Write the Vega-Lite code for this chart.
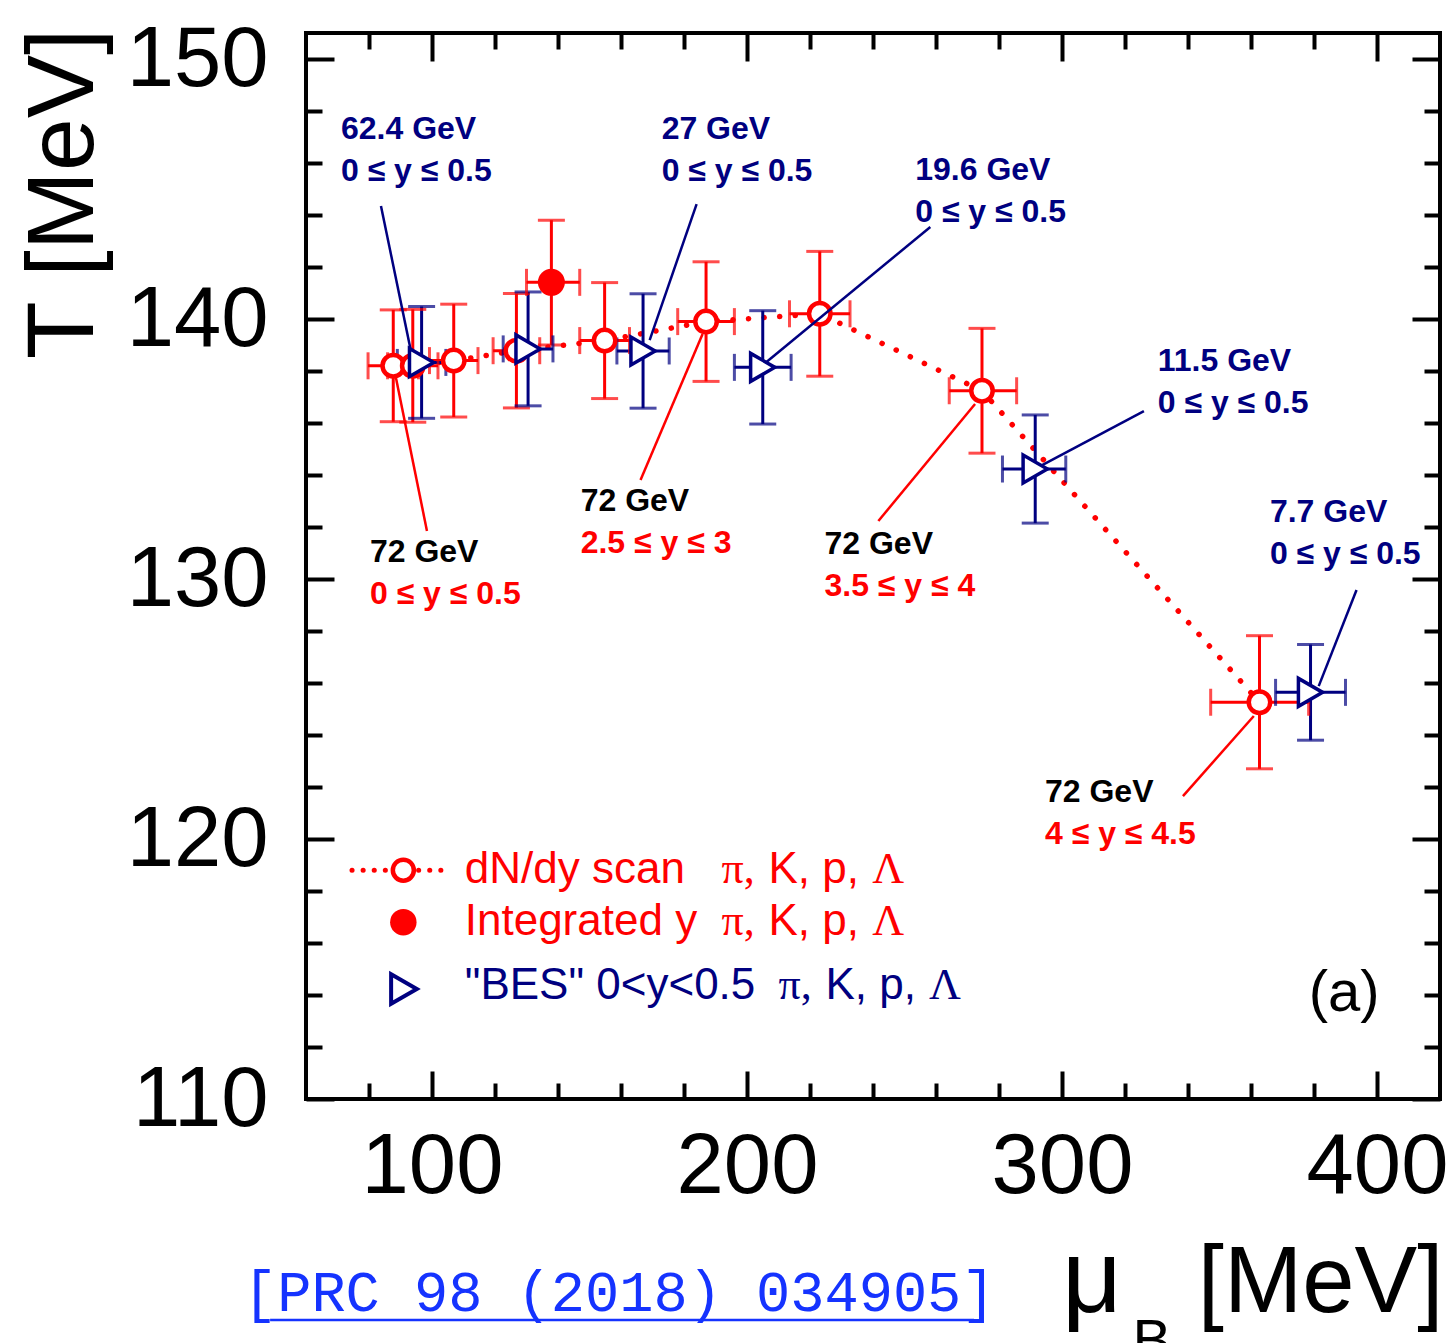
{
  "$schema": "https://vega.github.io/schema/vega-lite/v6.json",
  "width": 1134,
  "height": 1066,
  "autosize": {"type": "none"},
  "padding": {"left": 306, "top": 33, "right": 14, "bottom": 244},
  "background": "white",
  "config": {"view": {"stroke": "black", "strokeWidth": 4}, "font": "Liberation Sans"},
  "resolve": {"axis": {"x": "independent", "y": "independent"}},
  "datasets": {
    "pts": [
      {"s": "dNdy", "x": 87.7, "y": 138.2, "xlo": 79.7, "xhi": 95.7, "ylo": 136.05, "yhi": 140.35},
      {"s": "dNdy", "x": 93.9, "y": 138.2, "xlo": 85.9, "xhi": 101.9, "ylo": 136.03, "yhi": 140.37},
      {"s": "dNdy", "x": 106.9, "y": 138.4, "xlo": 99.2, "xhi": 114.6, "ylo": 136.23, "yhi": 140.57},
      {"s": "dNdy", "x": 126.8, "y": 138.78, "xlo": 119.4, "xhi": 134.2, "ylo": 136.58, "yhi": 140.98},
      {"s": "dNdy", "x": 154.8, "y": 139.17, "xlo": 146.9, "xhi": 162.7, "ylo": 136.94, "yhi": 141.4},
      {"s": "dNdy", "x": 187.0, "y": 139.9, "xlo": 178.0, "xhi": 196.0, "ylo": 137.6, "yhi": 142.2},
      {"s": "dNdy", "x": 223.1, "y": 140.2, "xlo": 213.5, "xhi": 232.7, "ylo": 137.8, "yhi": 142.6},
      {"s": "dNdy", "x": 274.6, "y": 137.24, "xlo": 264.2, "xhi": 285.6, "ylo": 134.84, "yhi": 139.64},
      {"s": "dNdy", "x": 362.7, "y": 125.26, "xlo": 347.2, "xhi": 378.3, "ylo": 122.7, "yhi": 127.82},
      {"s": "int", "x": 137.9, "y": 141.41, "xlo": 130.0, "xhi": 146.9, "ylo": 139.0, "yhi": 143.8},
      {"s": "BES", "x": 96.7, "y": 138.33, "xlo": 89.0, "xhi": 104.4, "ylo": 136.18, "yhi": 140.48},
      {"s": "BES", "x": 130.5, "y": 138.85, "xlo": 122.6, "xhi": 138.4, "ylo": 136.66, "yhi": 141.04},
      {"s": "BES", "x": 167.0, "y": 138.77, "xlo": 158.7, "xhi": 175.3, "ylo": 136.57, "yhi": 140.97},
      {"s": "BES", "x": 205.0, "y": 138.14, "xlo": 196.0, "xhi": 214.0, "ylo": 135.96, "yhi": 140.32},
      {"s": "BES", "x": 291.5, "y": 134.23, "xlo": 281.1, "xhi": 301.2, "ylo": 132.15, "yhi": 136.31},
      {"s": "BES", "x": 378.9, "y": 125.64, "xlo": 367.8, "xhi": 390.0, "ylo": 123.8, "yhi": 127.48}
    ],
    "ann": [
      {"x": 71.1, "y": 147.31, "t": "62.4 GeV", "k": "bes"},
      {"x": 71.1, "y": 145.69, "t": "0 ≤ y ≤ 0.5", "k": "bes"},
      {"x": 172.9, "y": 147.31, "t": "27 GeV", "k": "bes"},
      {"x": 172.9, "y": 145.69, "t": "0 ≤ y ≤ 0.5", "k": "bes"},
      {"x": 253.4, "y": 145.73, "t": "19.6 GeV", "k": "bes"},
      {"x": 253.4, "y": 144.12, "t": "0 ≤ y ≤ 0.5", "k": "bes"},
      {"x": 330.4, "y": 138.38, "t": "11.5 GeV", "k": "bes"},
      {"x": 330.4, "y": 136.77, "t": "0 ≤ y ≤ 0.5", "k": "bes"},
      {"x": 366.0, "y": 132.58, "t": "7.7 GeV", "k": "bes"},
      {"x": 366.0, "y": 130.96, "t": "0 ≤ y ≤ 0.5", "k": "bes"},
      {"x": 80.3, "y": 131.04, "t": "72 GeV", "k": "e72"},
      {"x": 147.2, "y": 133.0, "t": "72 GeV", "k": "e72"},
      {"x": 224.6, "y": 131.35, "t": "72 GeV", "k": "e72"},
      {"x": 294.6, "y": 121.81, "t": "72 GeV", "k": "e72"},
      {"x": 80.3, "y": 129.42, "t": "0 ≤ y ≤ 0.5", "k": "rap"},
      {"x": 147.2, "y": 131.38, "t": "2.5 ≤ y ≤ 3", "k": "rap"},
      {"x": 224.6, "y": 129.73, "t": "3.5 ≤ y ≤ 4", "k": "rap"},
      {"x": 294.6, "y": 120.19, "t": "4 ≤ y ≤ 4.5", "k": "rap"}
    ],
    "lead": [
      {"x": 83.8, "y": 144.35, "x2": 93.3, "y2": 138.77, "k": "bes"},
      {"x": 184.0, "y": 144.42, "x2": 169.1, "y2": 139.19, "k": "bes"},
      {"x": 258.2, "y": 143.54, "x2": 205.8, "y2": 138.31, "k": "bes"},
      {"x": 326.0, "y": 136.46, "x2": 293.7, "y2": 134.38, "k": "bes"},
      {"x": 393.5, "y": 129.58, "x2": 381.5, "y2": 125.88, "k": "bes"},
      {"x": 98.4, "y": 131.85, "x2": 88.5, "y2": 137.77, "k": "rap"},
      {"x": 166.2, "y": 133.81, "x2": 185.9, "y2": 139.42, "k": "rap"},
      {"x": 241.7, "y": 132.23, "x2": 272.4, "y2": 136.73, "k": "rap"},
      {"x": 338.4, "y": 121.65, "x2": 360.9, "y2": 124.73, "k": "rap"}
    ],
    "legsym": [
      {"x": 90.9, "y": 118.8, "s": "dNdy"},
      {"x": 90.9, "y": 116.8, "s": "int"},
      {"x": 91.1, "y": 114.23, "s": "BES"}
    ],
    "legline": [
      {"x": 74.6, "x2": 105.0, "y": 118.8}
    ],
    "legtxt": [
      {"x": 110.4, "y": 118.81, "t": "dN/dy scan", "s": "dNdy", "k": "lab"},
      {"x": 191.9, "y": 118.81, "t": "π,", "s": "dNdy", "k": "sps"},
      {"x": 206.8, "y": 118.81, "t": "K, p,", "s": "dNdy", "k": "lab"},
      {"x": 239.8, "y": 118.81, "t": "Λ", "s": "dNdy", "k": "sps"},
      {"x": 110.4, "y": 116.81, "t": "Integrated y", "s": "int", "k": "lab"},
      {"x": 191.9, "y": 116.81, "t": "π,", "s": "int", "k": "sps"},
      {"x": 206.8, "y": 116.81, "t": "K, p,", "s": "int", "k": "lab"},
      {"x": 239.8, "y": 116.81, "t": "Λ", "s": "int", "k": "sps"},
      {"x": 110.4, "y": 114.35, "t": "\"BES\" 0<y<0.5", "s": "BES", "k": "lab"},
      {"x": 210.0, "y": 114.35, "t": "π,", "s": "BES", "k": "sps"},
      {"x": 224.9, "y": 114.35, "t": "K, p,", "s": "BES", "k": "lab"},
      {"x": 257.8, "y": 114.35, "t": "Λ", "s": "BES", "k": "sps"}
    ],
    "misc": [
      {"x": 378.3, "y": 114.04, "t": "(a)", "k": "tag"},
      {"x": 40.0, "y": 101.85, "t": "[PRC 98 (2018) 034905]", "k": "cite"},
      {"x": 300.0, "y": 101.81, "t": "μ", "k": "mu"},
      {"x": 343.1, "y": 101.81, "t": "[MeV]", "k": "big"},
      {"x": 322.4, "y": 99.96, "t": "B", "k": "sub"}
    ],
    "uline": [
      {"x": 48.6, "x2": 272.1, "y": 101.5}
    ]
  },
  "layer": [
    {
      "data": {"name": "pts"},
      "transform": [{"filter": "datum.s === 'dNdy'"}],
      "mark": {"type": "line", "color": "#ff0000", "strokeWidth": 5.5, "strokeDash": [0.1, 15.5], "strokeCap": "round"},
      "encoding": {
        "x": {"field": "x", "type": "quantitative", "scale": {"domain": [60, 420], "nice": false, "zero": false},
          "axis": {"orient": "bottom", "values": [80, 100, 120, 140, 160, 180, 200, 220, 240, 260, 280, 300, 320, 340, 360, 380, 400],
            "tickSize": {"condition": {"test": "datum.value % 100 === 0", "value": -28}, "value": -16},
            "tickWidth": 4, "tickColor": "black", "domain": false, "grid": false,
            "labelExpr": "datum.value % 100 === 0 ? datum.label : ''",
            "labelFontSize": 85, "labelColor": "black", "labelFont": "Liberation Sans", "labelPadding": 54,
            "labelOverlap": false, "labelFlush": false, "title": null}},
        "y": {"field": "y", "type": "quantitative", "scale": {"domain": [110, 151], "nice": false, "zero": false},
          "axis": {"orient": "left", "values": [110, 112, 114, 116, 118, 120, 122, 124, 126, 128, 130, 132, 134, 136, 138, 140, 142, 144, 146, 148, 150],
            "tickSize": {"condition": {"test": "datum.value % 10 === 0", "value": -28}, "value": -16},
            "tickWidth": 4, "tickColor": "black", "domain": false, "grid": false,
            "labelExpr": "datum.value % 10 === 0 ? datum.label : ''",
            "labelFontSize": 85, "labelColor": "black", "labelFont": "Liberation Sans", "labelPadding": 66,
            "labelOverlap": false, "labelFlush": false,
            "title": "T [MeV]", "titleFontSize": 95, "titleFont": "Liberation Sans", "titleFontWeight": "normal", "titleColor": "black",
            "titleAngle": -90, "titleAlign": "right", "titleBaseline": "alphabetic", "titleX": -214, "titleY": -5}}
      }
    },
    {
      "data": {"name": "pts"},
      "mark": {"type": "rule", "strokeWidth": 3},
      "encoding": {
        "x": {"field": "x", "type": "quantitative", "scale": {"domain": [60, 420], "nice": false, "zero": false},
          "axis": {"orient": "top", "values": [80, 100, 120, 140, 160, 180, 200, 220, 240, 260, 280, 300, 320, 340, 360, 380, 400],
            "tickSize": {"condition": {"test": "datum.value % 100 === 0", "value": -28}, "value": -16},
            "tickWidth": 4, "tickColor": "black", "domain": false, "grid": false, "labels": false, "title": null}},
        "y": {"field": "ylo", "type": "quantitative", "scale": {"domain": [110, 151], "nice": false, "zero": false},
          "axis": {"orient": "right", "values": [110, 112, 114, 116, 118, 120, 122, 124, 126, 128, 130, 132, 134, 136, 138, 140, 142, 144, 146, 148, 150],
            "tickSize": {"condition": {"test": "datum.value % 10 === 0", "value": -28}, "value": -16},
            "tickWidth": 4, "tickColor": "black", "domain": false, "grid": false, "labels": false, "title": null}},
        "y2": {"field": "yhi"},
        "color": {"field": "s", "type": "nominal", "scale": {"domain": ["dNdy", "int", "BES"], "range": ["#ff0000", "#ff0000", "#000080"]}, "legend": null}
      }
    },
    {
      "data": {"name": "pts"},
      "mark": {"type": "rule", "strokeWidth": 3},
      "encoding": {
        "x": {"field": "xlo", "type": "quantitative", "scale": {"domain": [60, 420], "nice": false, "zero": false}, "axis": null},
        "x2": {"field": "xhi"},
        "y": {"field": "y", "type": "quantitative", "scale": {"domain": [110, 151], "nice": false, "zero": false}, "axis": null},
        "color": {"field": "s", "type": "nominal", "legend": null}
      }
    },
    {
      "data": {"name": "pts"},
      "mark": {"type": "tick", "orient": "horizontal", "size": 27, "thickness": 3},
      "encoding": {
        "x": {"field": "x", "type": "quantitative", "axis": null},
        "y": {"field": "ylo", "type": "quantitative", "axis": null},
        "color": {"field": "s", "type": "nominal", "legend": null}
      }
    },
    {
      "data": {"name": "pts"},
      "mark": {"type": "tick", "orient": "horizontal", "size": 27, "thickness": 3},
      "encoding": {
        "x": {"field": "x", "type": "quantitative", "axis": null},
        "y": {"field": "yhi", "type": "quantitative", "axis": null},
        "color": {"field": "s", "type": "nominal", "legend": null}
      }
    },
    {
      "data": {"name": "pts"},
      "mark": {"type": "tick", "orient": "vertical", "size": 27, "thickness": 3},
      "encoding": {
        "x": {"field": "xlo", "type": "quantitative", "axis": null},
        "y": {"field": "y", "type": "quantitative", "axis": null},
        "color": {"field": "s", "type": "nominal", "legend": null}
      }
    },
    {
      "data": {"name": "pts"},
      "mark": {"type": "tick", "orient": "vertical", "size": 27, "thickness": 3},
      "encoding": {
        "x": {"field": "xhi", "type": "quantitative", "axis": null},
        "y": {"field": "y", "type": "quantitative", "axis": null},
        "color": {"field": "s", "type": "nominal", "legend": null}
      }
    },
    {
      "data": {"name": "pts"},
      "transform": [{"filter": "datum.s === 'dNdy'"}],
      "mark": {"type": "point", "shape": "circle", "filled": true, "fill": "white", "stroke": "#ff0000", "strokeWidth": 4.5, "size": 460, "opacity": 1},
      "encoding": {
        "x": {"field": "x", "type": "quantitative", "axis": null},
        "y": {"field": "y", "type": "quantitative", "axis": null}
      }
    },
    {
      "data": {"name": "pts"},
      "transform": [{"filter": "datum.s === 'int'"}],
      "mark": {"type": "point", "shape": "circle", "filled": true, "fill": "#ff0000", "size": 729, "opacity": 1},
      "encoding": {
        "x": {"field": "x", "type": "quantitative", "axis": null},
        "y": {"field": "y", "type": "quantitative", "axis": null}
      }
    },
    {
      "data": {"name": "pts"},
      "transform": [{"filter": "datum.s === 'BES'"}],
      "mark": {"type": "point", "shape": "triangle-right", "filled": true, "fill": "white", "stroke": "#000080", "strokeWidth": 3.5, "size": 784, "opacity": 1},
      "encoding": {
        "x": {"field": "x", "type": "quantitative", "axis": null},
        "y": {"field": "y", "type": "quantitative", "axis": null}
      }
    },
    {
      "data": {"name": "lead"},
      "transform": [{"filter": "datum.k === 'bes'"}],
      "mark": {"type": "rule", "color": "#000080", "strokeWidth": 2.5},
      "encoding": {
        "x": {"field": "x", "type": "quantitative", "axis": null},
        "y": {"field": "y", "type": "quantitative", "axis": null},
        "x2": {"field": "x2"},
        "y2": {"field": "y2"}
      }
    },
    {
      "data": {"name": "lead"},
      "transform": [{"filter": "datum.k === 'rap'"}],
      "mark": {"type": "rule", "color": "#ff0000", "strokeWidth": 2.5},
      "encoding": {
        "x": {"field": "x", "type": "quantitative", "axis": null},
        "y": {"field": "y", "type": "quantitative", "axis": null},
        "x2": {"field": "x2"},
        "y2": {"field": "y2"}
      }
    },
    {
      "data": {"name": "ann"},
      "transform": [{"filter": "datum.k === 'bes'"}],
      "mark": {"type": "text", "color": "#000080", "font": "Liberation Sans", "fontWeight": "bold", "fontSize": 32, "align": "left", "baseline": "middle"},
      "encoding": {
        "x": {"field": "x", "type": "quantitative", "axis": null},
        "y": {"field": "y", "type": "quantitative", "axis": null},
        "text": {"field": "t"}
      }
    },
    {
      "data": {"name": "ann"},
      "transform": [{"filter": "datum.k === 'e72'"}],
      "mark": {"type": "text", "color": "black", "font": "Liberation Sans", "fontWeight": "bold", "fontSize": 32, "align": "left", "baseline": "middle"},
      "encoding": {
        "x": {"field": "x", "type": "quantitative", "axis": null},
        "y": {"field": "y", "type": "quantitative", "axis": null},
        "text": {"field": "t"}
      }
    },
    {
      "data": {"name": "ann"},
      "transform": [{"filter": "datum.k === 'rap'"}],
      "mark": {"type": "text", "color": "#ff0000", "font": "Liberation Sans", "fontWeight": "bold", "fontSize": 32, "align": "left", "baseline": "middle"},
      "encoding": {
        "x": {"field": "x", "type": "quantitative", "axis": null},
        "y": {"field": "y", "type": "quantitative", "axis": null},
        "text": {"field": "t"}
      }
    },
    {
      "data": {"name": "legline"},
      "mark": {"type": "rule", "color": "#ff0000", "strokeWidth": 5, "strokeDash": [0.1, 11], "strokeCap": "round"},
      "encoding": {
        "x": {"field": "x", "type": "quantitative", "axis": null},
        "x2": {"field": "x2"},
        "y": {"field": "y", "type": "quantitative", "axis": null}
      }
    },
    {
      "data": {"name": "legsym"},
      "transform": [{"filter": "datum.s === 'dNdy'"}],
      "mark": {"type": "point", "shape": "circle", "filled": true, "fill": "white", "stroke": "#ff0000", "strokeWidth": 4.5, "size": 440, "opacity": 1},
      "encoding": {
        "x": {"field": "x", "type": "quantitative", "axis": null},
        "y": {"field": "y", "type": "quantitative", "axis": null}
      }
    },
    {
      "data": {"name": "legsym"},
      "transform": [{"filter": "datum.s === 'int'"}],
      "mark": {"type": "point", "shape": "circle", "filled": true, "fill": "#ff0000", "size": 700, "opacity": 1},
      "encoding": {
        "x": {"field": "x", "type": "quantitative", "axis": null},
        "y": {"field": "y", "type": "quantitative", "axis": null}
      }
    },
    {
      "data": {"name": "legsym"},
      "transform": [{"filter": "datum.s === 'BES'"}],
      "mark": {"type": "point", "shape": "triangle-right", "filled": true, "fill": "white", "stroke": "#000080", "strokeWidth": 4, "size": 880, "opacity": 1},
      "encoding": {
        "x": {"field": "x", "type": "quantitative", "axis": null},
        "y": {"field": "y", "type": "quantitative", "axis": null}
      }
    },
    {
      "data": {"name": "legtxt"},
      "transform": [{"filter": "datum.k === 'lab'"}],
      "mark": {"type": "text", "font": "Liberation Sans", "fontSize": 44, "align": "left", "baseline": "middle"},
      "encoding": {
        "x": {"field": "x", "type": "quantitative", "axis": null},
        "y": {"field": "y", "type": "quantitative", "axis": null},
        "text": {"field": "t"},
        "color": {"field": "s", "type": "nominal", "legend": null}
      }
    },
    {
      "data": {"name": "legtxt"},
      "transform": [{"filter": "datum.k === 'sps'"}],
      "mark": {"type": "text", "font": "Liberation Serif", "fontSize": 44, "align": "left", "baseline": "middle"},
      "encoding": {
        "x": {"field": "x", "type": "quantitative", "axis": null},
        "y": {"field": "y", "type": "quantitative", "axis": null},
        "text": {"field": "t"},
        "color": {"field": "s", "type": "nominal", "legend": null}
      }
    },
    {
      "data": {"name": "misc"},
      "transform": [{"filter": "datum.k === 'tag'"}],
      "mark": {"type": "text", "font": "Liberation Sans", "fontSize": 58, "align": "left", "baseline": "middle", "color": "black"},
      "encoding": {
        "x": {"field": "x", "type": "quantitative", "axis": null},
        "y": {"field": "y", "type": "quantitative", "axis": null},
        "text": {"field": "t"}
      }
    },
    {
      "data": {"name": "misc"},
      "transform": [{"filter": "datum.k === 'cite'"}],
      "mark": {"type": "text", "font": "Liberation Mono", "fontSize": 57, "align": "left", "baseline": "alphabetic", "color": "#1533ff"},
      "encoding": {
        "x": {"field": "x", "type": "quantitative", "axis": null},
        "y": {"field": "y", "type": "quantitative", "axis": null},
        "text": {"field": "t"}
      }
    },
    {
      "data": {"name": "uline"},
      "mark": {"type": "rule", "color": "#1533ff", "strokeWidth": 2.5},
      "encoding": {
        "x": {"field": "x", "type": "quantitative", "axis": null},
        "x2": {"field": "x2"},
        "y": {"field": "y", "type": "quantitative", "axis": null}
      }
    },
    {
      "data": {"name": "misc"},
      "transform": [{"filter": "datum.k === 'big'"}],
      "mark": {"type": "text", "font": "Liberation Sans", "fontSize": 94, "align": "left", "baseline": "alphabetic", "color": "black"},
      "encoding": {
        "x": {"field": "x", "type": "quantitative", "axis": null},
        "y": {"field": "y", "type": "quantitative", "axis": null},
        "text": {"field": "t"}
      }
    },
    {
      "data": {"name": "misc"},
      "transform": [{"filter": "datum.k === 'mu'"}],
      "mark": {"type": "text", "font": "Liberation Sans", "fontSize": 104, "align": "left", "baseline": "alphabetic", "color": "black"},
      "encoding": {
        "x": {"field": "x", "type": "quantitative", "axis": null},
        "y": {"field": "y", "type": "quantitative", "axis": null},
        "text": {"field": "t"}
      }
    },
    {
      "data": {"name": "misc"},
      "transform": [{"filter": "datum.k === 'sub'"}],
      "mark": {"type": "text", "font": "Liberation Sans", "fontSize": 58, "align": "left", "baseline": "alphabetic", "color": "black"},
      "encoding": {
        "x": {"field": "x", "type": "quantitative", "axis": null},
        "y": {"field": "y", "type": "quantitative", "axis": null},
        "text": {"field": "t"}
      }
    }
  ]
}
